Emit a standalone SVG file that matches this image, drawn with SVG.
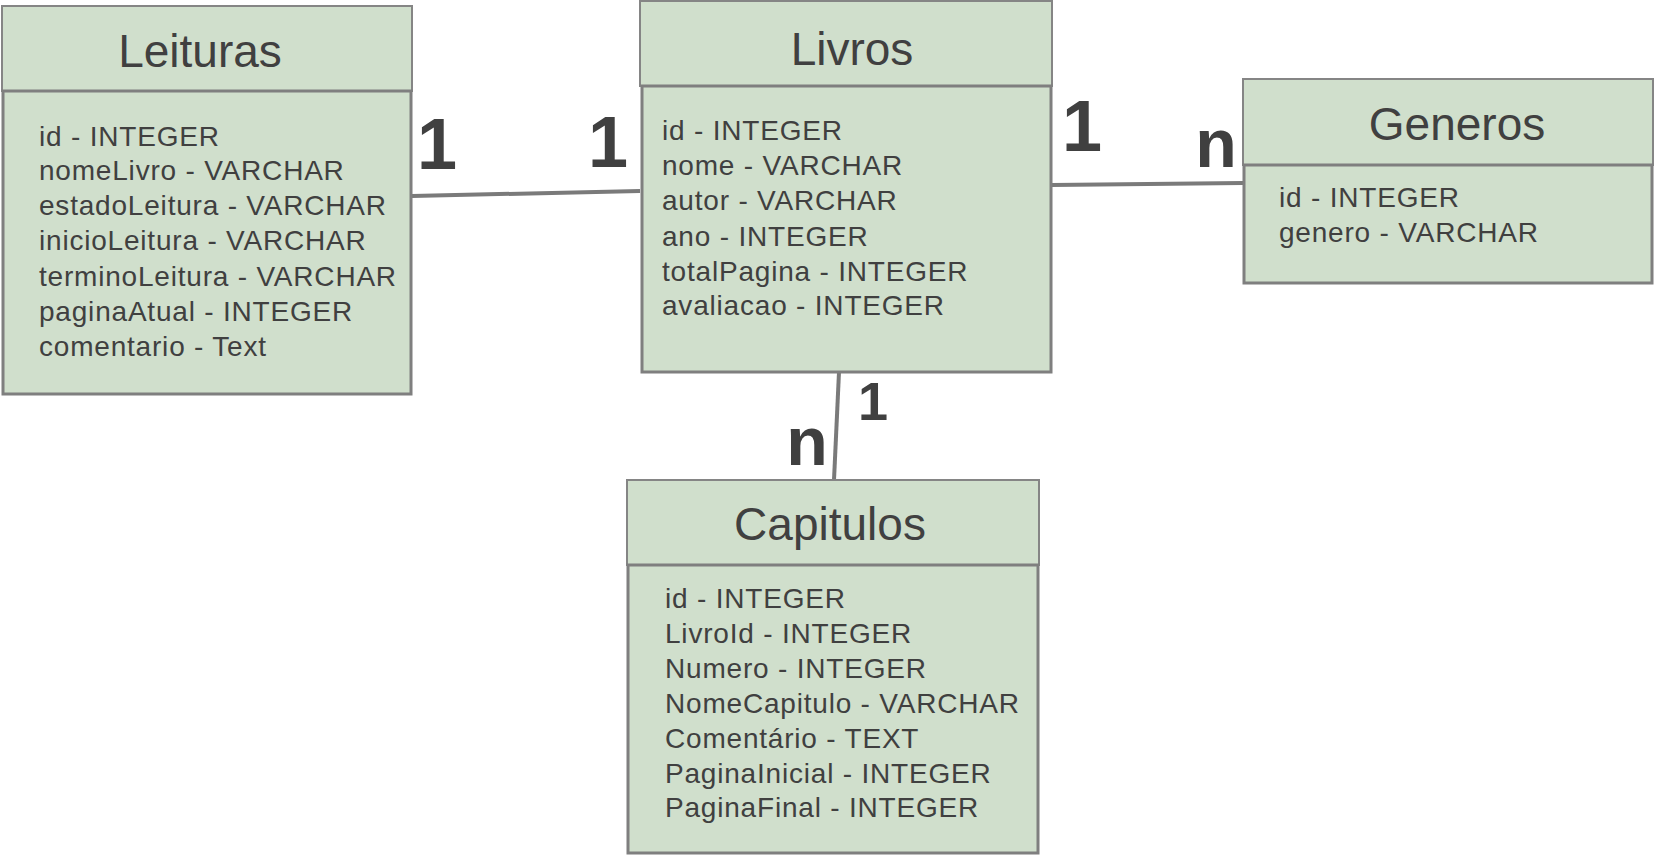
<svg xmlns="http://www.w3.org/2000/svg" width="1656" height="856" viewBox="0 0 1656 856">
<style>
.hd{fill:#d0dfcc;stroke:#858585;stroke-width:2}
.bd{fill:#d0dfcc;stroke:#7f7f7f;stroke-width:3}
.tt{font-family:"Liberation Sans",Arial,sans-serif;font-size:46px;fill:#404040;text-anchor:middle}
.at{font-family:"Liberation Sans",Arial,sans-serif;font-size:28px;letter-spacing:0.8px;fill:#404040}
.lb{font-family:"Liberation Sans",Arial,sans-serif;fill:#404040;font-weight:bold;text-anchor:middle}
.cn{stroke:#7a7a7a;stroke-width:4;fill:none}
</style>
<g id="connectors">
<line class="cn" x1="412" y1="196" x2="640" y2="191"/>
<line class="cn" x1="1052" y1="185" x2="1243" y2="183"/>
<line class="cn" x1="839" y1="372" x2="834" y2="480"/>
<text class="lb" x="437" y="169" font-size="72">1</text>
<text class="lb" x="608" y="167" font-size="72">1</text>
<text class="lb" x="1082" y="151" font-size="72">1</text>
<text class="lb" x="1216" y="167" font-size="68">n</text>
<text class="lb" x="873" y="420" font-size="54">1</text>
<text class="lb" x="807" y="465" font-size="68">n</text>
</g>
<g id="leituras">
<rect class="hd" x="2" y="6" width="410" height="85"/>
<rect class="bd" x="3" y="91" width="408" height="303"/>
<text class="tt" x="200" y="67">Leituras</text>
<text class="at" x="39" y="146">id - INTEGER</text>
<text class="at" x="39" y="180">nomeLivro - VARCHAR</text>
<text class="at" x="39" y="215">estadoLeitura - VARCHAR</text>
<text class="at" x="39" y="250">inicioLeitura - VARCHAR</text>
<text class="at" x="39" y="286">terminoLeitura - VARCHAR</text>
<text class="at" x="39" y="321">paginaAtual - INTEGER</text>
<text class="at" x="39" y="356">comentario - Text</text>
</g>
<g id="livros">
<rect class="hd" x="640" y="1" width="412" height="85"/>
<rect class="bd" x="642" y="86" width="409" height="286"/>
<text class="tt" x="852" y="65">Livros</text>
<text class="at" x="662" y="140">id - INTEGER</text>
<text class="at" x="662" y="175">nome - VARCHAR</text>
<text class="at" x="662" y="210">autor - VARCHAR</text>
<text class="at" x="662" y="246">ano - INTEGER</text>
<text class="at" x="662" y="281">totalPagina - INTEGER</text>
<text class="at" x="662" y="315">avaliacao - INTEGER</text>
</g>
<g id="generos">
<rect class="hd" x="1243" y="79" width="410" height="86"/>
<rect class="bd" x="1244" y="165" width="408" height="118"/>
<text class="tt" x="1457" y="140">Generos</text>
<text class="at" x="1279" y="207">id - INTEGER</text>
<text class="at" x="1279" y="242">genero - VARCHAR</text>
</g>
<g id="capitulos">
<rect class="hd" x="627" y="480" width="412" height="85"/>
<rect class="bd" x="628" y="565" width="410" height="288"/>
<text class="tt" x="830" y="540">Capitulos</text>
<text class="at" x="665" y="608">id - INTEGER</text>
<text class="at" x="665" y="643">LivroId - INTEGER</text>
<text class="at" x="665" y="678">Numero - INTEGER</text>
<text class="at" x="665" y="713">NomeCapitulo - VARCHAR</text>
<text class="at" x="665" y="748">Comentário - TEXT</text>
<text class="at" x="665" y="783">PaginaInicial - INTEGER</text>
<text class="at" x="665" y="817">PaginaFinal - INTEGER</text>
</g>
</svg>
